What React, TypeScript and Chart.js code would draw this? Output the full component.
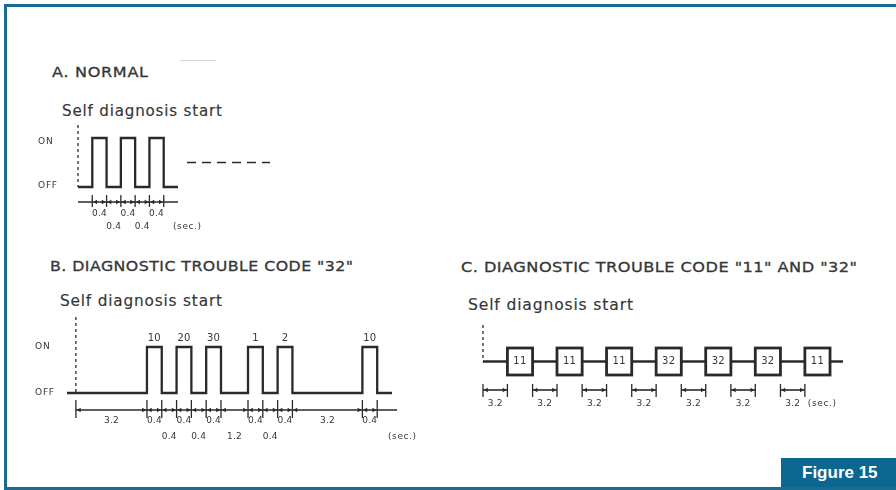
import React, { useEffect, useRef } from 'react';
import { Chart, registerables, LinearScale } from 'chart.js';

// ---------------- data ----------------
const LEVEL_NAMES = ['OFF', 'ON'];
const UNIT_LABEL = '(sec.)';

// A. NORMAL
const A_LEVELS = [0, 1, 0, 1, 0, 1, 0];
const A_DURATIONS = [0.4, 0.4, 0.4, 0.4, 0.4, 0.4, 0.4];
const A_DIM_LABELS = ['', '0.4', '0.4', '0.4', '0.4', '0.4', ''];

// B. DIAGNOSTIC TROUBLE CODE "32"
const B_LEVELS = [0, 1, 0, 1, 0, 1, 0, 1, 0, 1, 0, 1, 0];
const B_DURATIONS = [3.2, 0.4, 0.4, 0.4, 0.4, 0.4, 1.2, 0.4, 0.4, 0.4, 3.2, 0.4, 0.4];
const B_DIM_LABELS = ['3.2', '0.4', '0.4', '0.4', '0.4', '0.4', '1.2', '0.4', '0.4', '0.4', '3.2', '0.4', ''];
const B_PULSE_LABELS = ['10', '20', '30', '1', '2', '10'];

// C. DIAGNOSTIC TROUBLE CODE "11" AND "32"
const C_CODES = ['11', '11', '11', '32', '32', '32', '11'];
const C_GAPS = [3.2, 3.2, 3.2, 3.2, 3.2, 3.2, 3.2];
const C_GAP_LABELS = ['3.2', '3.2', '3.2', '3.2', '3.2', '3.2', '3.2'];

// ---------------- style / layout ----------------
const INK = '#2a2a2a';
const TEXT = '#363636';
const FRAME = '#186b91';
const FONT = '"DejaVu Sans", "Liberation Sans", Arial, sans-serif';
const FIG_FONT = '"Liberation Sans", Arial, sans-serif';
const CODE_BOX_SPAN = 3.3; // drawn width of a code symbol (axis units)
const C_TAIL = 1.7;

const PANEL_A = { canvas: { left: 10, top: 118, width: 290, height: 122 }, area: { left: 78, top: 138, right: 178, bottom: 187 } };
const PANEL_B = { canvas: { left: 10, top: 312, width: 430, height: 138 }, area: { left: 67, top: 347, right: 392, bottom: 393 } };
const PANEL_C = { canvas: { left: 460, top: 318, width: 410, height: 100 }, area: { left: 483, top: 348, right: 843, bottom: 375 } };

function paddingOf(p: any) {
  return {
    left: p.area.left - p.canvas.left,
    top: p.area.top - p.canvas.top,
    right: p.canvas.left + p.canvas.width - p.area.right,
    bottom: p.canvas.top + p.canvas.height - p.area.bottom,
  };
}

// ---------------- broken (compressed-gap) linear scale ----------------
class BrokenLinearScale extends LinearScale {
  static id = 'brokenLinear';
  warp(v: number) {
    const breaks: any = (this.options as any).breaks || [];
    let out = v;
    for (let i = 0; i < breaks.length; i++) {
      const from = Number(breaks[i].from), to = Number(breaks[i].to), shown = Number(breaks[i].shown);
      const span = to - from;
      if (v >= to) out -= span - shown;
      else if (v > from) out -= (v - from) * (1 - shown / span);
    }
    return out;
  }
  getPixelForValue(value: number) {
    const lo = this.warp(this.min);
    const hi = this.warp(this.max);
    return this.getPixelForDecimal((this.warp(value) - lo) / (hi - lo));
  }
  getValueForPixel(pixel: number) {
    const lo = this.warp(this.min);
    const hi = this.warp(this.max);
    const target = lo + this.getDecimalForPixel(pixel) * (hi - lo);
    let a = this.min, b = this.max;
    for (let i = 0; i < 40; i++) {
      const m = (a + b) / 2;
      if (this.warp(m) < target) a = m; else b = m;
    }
    return (a + b) / 2;
  }
}

Chart.register(...registerables);
Chart.register(BrokenLinearScale as any);

// ---------------- helpers ----------------
function stepPoints(levels: number[], durations: number[], start = 0) {
  const pts: { x: number; y: number }[] = [];
  let t = start;
  for (let i = 0; i < levels.length; i++) {
    pts.push({ x: t, y: levels[i] });
    t += durations[i];
  }
  pts.push({ x: t, y: levels[levels.length - 1] });
  return pts;
}
const sum = (a: number[]) => a.reduce((s, v) => s + v, 0);

function seg(ctx: any, x1: number, y1: number, x2: number, y2: number) {
  ctx.beginPath();
  ctx.moveTo(x1, y1);
  ctx.lineTo(x2, y2);
  ctx.stroke();
}
function arrow(ctx: any, x: number, y: number, dir: number) {
  ctx.beginPath();
  ctx.moveTo(x, y);
  ctx.lineTo(x - dir * 4, y - 2.2);
  ctx.lineTo(x - dir * 4, y + 2.2);
  ctx.closePath();
  ctx.fill();
}
function label(ctx: any, s: string, x: number, y: number, size = 9, align = 'center', spacing = 0.2) {
  ctx.font = `${size}px ${FONT}`;
  ctx.fillStyle = TEXT;
  ctx.textAlign = align;
  ctx.textBaseline = 'middle';
  ctx.letterSpacing = spacing + 'px';
  ctx.fillText(s, x, y);
  ctx.letterSpacing = '0px';
}
function dashedStart(ctx: any, x: number, y1: number, y2: number) {
  ctx.save();
  ctx.strokeStyle = INK;
  ctx.lineWidth = 1.3;
  ctx.setLineDash([3, 3]);
  seg(ctx, x, y1, x, y2);
  ctx.restore();
}
function dimSegment(ctx: any, p0: number, p1: number, y: number) {
  ctx.fillStyle = INK;
  arrow(ctx, p0 + 0.8, y, -1);
  arrow(ctx, p1 - 0.8, y, 1);
}
function timeline(ctx: any, xs: any, levels: number[], durs: number[], labels: string[], baseY: number, o: any) {
  const edges = [0];
  durs.forEach((d) => edges.push(edges[edges.length - 1] + d));
  const px = edges.map((t) => xs.getPixelForValue(t));
  ctx.strokeStyle = INK;
  ctx.lineWidth = 1.6;
  seg(ctx, px[0], baseY, px[px.length - 1] + o.extend, baseY);
  const ticked = new Set<number>();
  labels.forEach((lab, i) => {
    if (!lab) return;
    ticked.add(i);
    ticked.add(i + 1);
    dimSegment(ctx, px[i], px[i + 1], baseY);
    const row = levels[i] === 1 || durs[i] >= 3 ? o.row0 : o.row1;
    label(ctx, lab, (px[i] + px[i + 1]) / 2, baseY + row);
  });
  ctx.lineWidth = 1.3;
  ticked.forEach((i) => seg(ctx, px[i], baseY + o.tickTop, px[i], baseY + o.tickBottom));
}
function levelLabels(ctx: any, x: number, yOn: number, yOff: number) {
  label(ctx, LEVEL_NAMES[1], x, yOn, 9, 'left', 0.8);
  label(ctx, LEVEL_NAMES[0], x, yOff, 9, 'left', 0.8);
}

// ---------------- plugins ----------------
const annotA = {
  id: 'annotA',
  afterDatasetsDraw(chart: any) {
    const { ctx, chartArea: ca } = chart;
    const xs = chart.scales.x, ys = chart.scales.y;
    const yOn = ys.getPixelForValue(1), yOff = ys.getPixelForValue(0);
    ctx.save();
    dashedStart(ctx, xs.getPixelForValue(0), ca.top - 13, yOff);
    levelLabels(ctx, ca.left - 40, yOn + 4, yOff - 1);
    ctx.strokeStyle = INK;
    ctx.lineWidth = 1.6;
    ctx.setLineDash([9, 6]);
    const yMid = ys.getPixelForValue(0.5);
    seg(ctx, ca.right + 9, yMid, ca.right + 92, yMid);
    ctx.setLineDash([]);
    timeline(ctx, xs, A_LEVELS, A_DURATIONS, A_DIM_LABELS, yOff + 15, { extend: 0, tickTop: -7, tickBottom: 5, row0: 12, row1: 25 });
    label(ctx, UNIT_LABEL, ca.right - 5, yOff + 40, 9, 'left', 0.6);
    ctx.restore();
  },
};

const annotB = {
  id: 'annotB',
  afterDatasetsDraw(chart: any) {
    const { ctx, chartArea: ca } = chart;
    const xs = chart.scales.x, ys = chart.scales.y;
    const yOn = ys.getPixelForValue(1), yOff = ys.getPixelForValue(0);
    ctx.save();
    dashedStart(ctx, xs.getPixelForValue(0), ca.top - 30, yOff);
    levelLabels(ctx, ca.left - 32, yOn, yOff);
    let t = 0, k = 0;
    B_DURATIONS.forEach((d, i) => {
      if (B_LEVELS[i] === 1) {
        const c = (xs.getPixelForValue(t) + xs.getPixelForValue(t + d)) / 2;
        label(ctx, B_PULSE_LABELS[k++], c, yOn - 9, 10, 'center', 0.2);
      }
      t += d;
    });
    timeline(ctx, xs, B_LEVELS, B_DURATIONS, B_DIM_LABELS, yOff + 17, { extend: 5, tickTop: -10, tickBottom: 8, row0: 11, row1: 27 });
    label(ctx, UNIT_LABEL, ca.right - 4, yOff + 44, 9, 'left', 0.6);
    ctx.restore();
  },
};

const annotC = {
  id: 'annotC',
  afterDatasetsDraw(chart: any) {
    const { ctx, chartArea: ca } = chart;
    const xs = chart.scales.x, ys = chart.scales.y;
    const yMid = ys.getPixelForValue(0), yTop = ys.getPixelForValue(1), yBot = ys.getPixelForValue(-1);
    ctx.save();
    dashedStart(ctx, xs.getPixelForValue(0), ca.top - 23, yMid);
    let t = 0;
    let lastEnd = 0;
    C_CODES.forEach((code, i) => {
      const g0 = t, g1 = t + C_GAPS[i];
      const p0 = xs.getPixelForValue(g0);
      const bx0 = xs.getPixelForValue(g1);
      const bx1 = xs.getPixelForValue(g1 + CODE_BOX_SPAN);
      ctx.fillStyle = '#fff';
      ctx.fillRect(bx0, yTop, bx1 - bx0, yBot - yTop);
      ctx.strokeStyle = INK;
      ctx.lineWidth = 2.8;
      ctx.strokeRect(bx0, yTop, bx1 - bx0, yBot - yTop);
      label(ctx, code, (bx0 + bx1) / 2, yMid, 10, 'center', 0.3);
      ctx.strokeStyle = INK;
      ctx.lineWidth = 1.3;
      seg(ctx, p0, yBot + 9, p0, yBot + 22);
      seg(ctx, bx0, yBot + 9, bx0, yBot + 22);
      ctx.lineWidth = 1.6;
      seg(ctx, p0, yBot + 15, bx0, yBot + 15);
      dimSegment(ctx, p0, bx0, yBot + 15);
      label(ctx, C_GAP_LABELS[i], (p0 + bx0) / 2, yBot + 29);
      lastEnd = bx0;
      t = g1 + CODE_BOX_SPAN;
    });
    label(ctx, UNIT_LABEL, lastEnd + 3, yBot + 29, 9, 'left', 0.6);
    ctx.restore();
  },
};

// ---------------- chart configs ----------------
const baseOptions = (panel: any) => ({
  responsive: false,
  animation: false,
  devicePixelRatio: 1,
  events: [],
  layout: { padding: paddingOf(panel) },
  plugins: { legend: { display: false }, tooltip: { enabled: false }, title: { display: false } },
});

const lineDataset = (data: any) => ({
  data,
  stepped: true,
  borderColor: INK,
  borderWidth: 2.3,
  pointRadius: 0,
  fill: false,
  clip: false,
  borderJoinStyle: 'miter',
  borderCapStyle: 'butt',
});

const configA = () => ({
  type: 'line',
  data: { datasets: [lineDataset(stepPoints(A_LEVELS, A_DURATIONS, 0))] },
  options: {
    ...baseOptions(PANEL_A),
    scales: {
      x: { type: 'linear', min: 0, max: sum(A_DURATIONS), bounds: 'data', display: false },
      y: { type: 'linear', min: 0, max: 1, display: false },
    },
  },
  plugins: [annotA],
});

const B_X_MIN = -0.24;
const configB = () => ({
  type: 'line',
  data: { datasets: [lineDataset([{ x: B_X_MIN, y: 0 }, ...stepPoints(B_LEVELS, B_DURATIONS, 0)])] },
  options: {
    ...baseOptions(PANEL_B),
    scales: {
      x: {
        type: 'brokenLinear',
        min: B_X_MIN,
        max: sum(B_DURATIONS),
        bounds: 'data',
        display: false,
        breaks: [
          { from: 0, to: 3.2, shown: 1.92 },
          { from: 5.2, to: 6.4, shown: 0.73 },
          { from: 7.6, to: 10.8, shown: 1.89 },
        ],
      },
      y: { type: 'linear', min: 0, max: 1, display: false },
    },
  },
  plugins: [annotB],
});

const C_TOTAL = sum(C_GAPS) + C_CODES.length * CODE_BOX_SPAN + C_TAIL;
const configC = () => ({
  type: 'line',
  data: { datasets: [{ ...lineDataset([{ x: 0, y: 0 }, { x: C_TOTAL, y: 0 }]), stepped: false }] },
  options: {
    ...baseOptions(PANEL_C),
    scales: {
      x: { type: 'linear', min: 0, max: C_TOTAL, bounds: 'data', display: false },
      y: { type: 'linear', min: -1, max: 1, display: false },
    },
  },
  plugins: [annotC],
});

// ---------------- components ----------------
function Panel({ panel, build }: any) {
  const ref = useRef<HTMLCanvasElement | null>(null);
  useEffect(() => {
    const chart = new Chart(ref.current as any, build() as any);
    return () => chart.destroy();
  }, []);
  const c = panel.canvas;
  return (
    <canvas
      ref={ref}
      width={c.width}
      height={c.height}
      style={{ position: 'absolute', left: c.left, top: c.top, width: c.width, height: c.height }}
    />
  );
}

let measureCtx: any = null;
// Text stretched to the width it takes in the reference: modest letter spacing plus horizontal scaling.
function FitText({ text, left, cy, width, size, spacing = 0.8, stroke = 0 }: any) {
  if (!measureCtx) measureCtx = document.createElement('canvas').getContext('2d');
  measureCtx.font = `400 ${size}px ${FONT}`;
  const natural = measureCtx.measureText(text).width + spacing * (text.length - 1);
  const sx = width / natural;
  const lh = Math.round(size * 1.2);
  return (
    <div
      style={{
        position: 'absolute',
        left,
        top: cy - lh / 2,
        fontFamily: FONT,
        fontSize: size,
        fontWeight: 400,
        lineHeight: lh + 'px',
        letterSpacing: spacing + 'px',
        whiteSpace: 'nowrap',
        color: TEXT,
        transform: `scaleX(${sx})`,
        transformOrigin: '0 50%',
        WebkitTextStroke: stroke ? `${stroke}px ${TEXT}` : undefined,
      }}
    >
      {text}
    </div>
  );
}

export default function App() {
  return (
    <div style={{ position: 'fixed', left: 0, top: 0, width: 896, height: 490, background: '#fff', overflow: 'hidden' }}>
      <div
        style={{
          position: 'absolute',
          left: 4,
          top: 4,
          width: 892,
          height: 486,
          boxSizing: 'border-box',
          borderTop: `3px solid ${FRAME}`,
          borderLeft: `3px solid ${FRAME}`,
          borderBottom: `3px solid ${FRAME}`,
        }}
      />
      <div style={{ position: 'absolute', left: 180, top: 60, width: 36, height: 1, background: '#d4d4d4' }} />

      <FitText text="A. NORMAL" left={52} cy={72} width={96} size={14} spacing={0.6} stroke={0.3} />
      <FitText text="Self diagnosis start" left={62} cy={111} width={160} size={15} spacing={0.8} stroke={0.15} />
      <Panel panel={PANEL_A} build={configA} />

      <FitText text={'B. DIAGNOSTIC TROUBLE CODE "32"'} left={50} cy={266} width={303} size={14} spacing={0.4} stroke={0.3} />
      <FitText text="Self diagnosis start" left={60} cy={301} width={162} size={15} spacing={0.8} stroke={0.15} />
      <Panel panel={PANEL_B} build={configB} />

      <FitText text={'C. DIAGNOSTIC TROUBLE CODE "11" AND "32"'} left={461} cy={267} width={396} size={14} spacing={0.4} stroke={0.3} />
      <FitText text="Self diagnosis start" left={468} cy={305} width={165} size={15} spacing={0.8} stroke={0.15} />
      <Panel panel={PANEL_C} build={configC} />

      <div
        style={{
          position: 'absolute',
          left: 781,
          top: 458,
          width: 115,
          height: 29,
          background: '#0c6690',
          color: '#fff',
          fontFamily: FIG_FONT,
          fontWeight: 700,
          fontSize: 17,
          lineHeight: '29px',
          boxSizing: 'border-box',
          paddingLeft: 21,
          whiteSpace: 'nowrap',
        }}
      >
        Figure 15
      </div>
    </div>
  );
}
